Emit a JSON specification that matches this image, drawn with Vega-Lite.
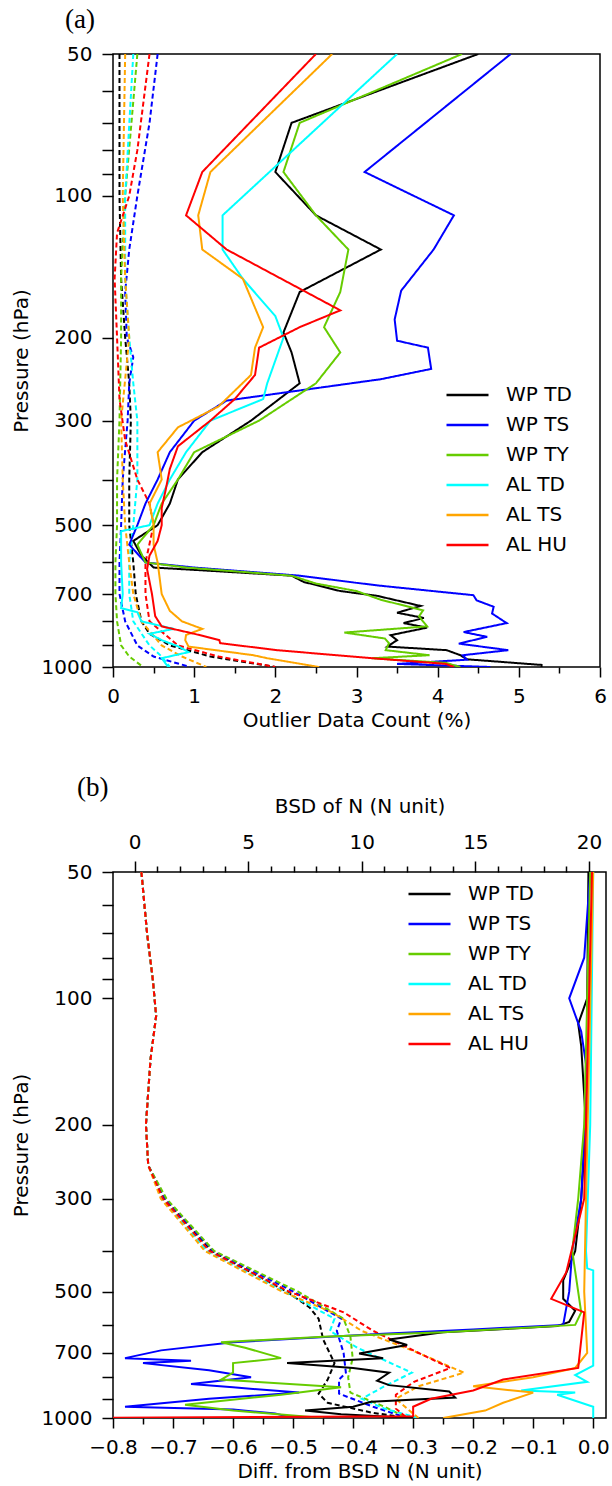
{
  "$schema": "https://vega.github.io/schema/vega-lite/v6.json",
  "padding": {"left": 10, "top": 5, "right": 3, "bottom": 5},
  "bounds": "flush",
  "spacing": 205,
  "config": {
    "font": "DejaVu Sans",
    "view": {"stroke": "black", "strokeWidth": 1.5},
    "axis": {"domain": false, "grid": false, "tickColor": "black", "tickWidth": 1.5, "tickSize": 10, "labelFont": "DejaVu Sans", "labelFontSize": 20, "labelColor": "black", "titleFont": "DejaVu Sans", "titleFontSize": 20, "titleFontWeight": "normal", "titleColor": "black", "labelPadding": 9, "labelFlush": false, "labelOverlap": false},
    "legend": {"labelFont": "DejaVu Sans", "labelFontSize": 20, "labelColor": "black", "symbolType": "stroke", "symbolSize": 1764, "symbolStrokeWidth": 2.5, "clipHeight": 20, "rowPadding": 10, "labelOffset": 16, "padding": 0},
    "title": {"font": "Liberation Serif", "fontSize": 27, "fontWeight": "normal", "color": "black", "anchor": "start", "frame": "group"}
  },
  "resolve": {"legend": {"color": "independent"}},
  "datasets": {
    "a": [
      {"s":"WP TD","k":"d","p":50,"v":0.08},{"s":"WP TD","k":"d","p":100,"v":0.08},{"s":"WP TD","k":"d","p":150,"v":0.1},{"s":"WP TD","k":"d","p":200,"v":0.15},{"s":"WP TD","k":"d","p":250,"v":0.2},{"s":"WP TD","k":"d","p":300,"v":0.22},{"s":"WP TD","k":"d","p":400,"v":0.2},{"s":"WP TD","k":"d","p":500,"v":0.2},{"s":"WP TD","k":"d","p":600,"v":0.25},{"s":"WP TD","k":"d","p":700,"v":0.28},{"s":"WP TD","k":"d","p":800,"v":0.35},{"s":"WP TD","k":"d","p":850,"v":0.45},{"s":"WP TD","k":"d","p":900,"v":0.7},{"s":"WP TD","k":"d","p":950,"v":1.2},{"s":"WP TD","k":"d","p":1000,"v":2.0},
      {"s":"WP TS","k":"d","p":50,"v":0.55},{"s":"WP TS","k":"d","p":70,"v":0.45},{"s":"WP TS","k":"d","p":100,"v":0.3},{"s":"WP TS","k":"d","p":130,"v":0.2},{"s":"WP TS","k":"d","p":160,"v":0.15},{"s":"WP TS","k":"d","p":200,"v":0.17},{"s":"WP TS","k":"d","p":220,"v":0.25},{"s":"WP TS","k":"d","p":250,"v":0.2},{"s":"WP TS","k":"d","p":300,"v":0.18},{"s":"WP TS","k":"d","p":400,"v":0.12},{"s":"WP TS","k":"d","p":500,"v":0.1},{"s":"WP TS","k":"d","p":600,"v":0.08},{"s":"WP TS","k":"d","p":700,"v":0.08},{"s":"WP TS","k":"d","p":800,"v":0.15},{"s":"WP TS","k":"d","p":900,"v":0.3},{"s":"WP TS","k":"d","p":950,"v":0.5},{"s":"WP TS","k":"d","p":1000,"v":0.95},
      {"s":"WP TY","k":"d","p":50,"v":0.3},{"s":"WP TY","k":"d","p":100,"v":0.15},{"s":"WP TY","k":"d","p":150,"v":0.1},{"s":"WP TY","k":"d","p":200,"v":0.1},{"s":"WP TY","k":"d","p":300,"v":0.08},{"s":"WP TY","k":"d","p":400,"v":0.05},{"s":"WP TY","k":"d","p":500,"v":0.05},{"s":"WP TY","k":"d","p":600,"v":0.03},{"s":"WP TY","k":"d","p":700,"v":0.03},{"s":"WP TY","k":"d","p":800,"v":0.05},{"s":"WP TY","k":"d","p":900,"v":0.1},{"s":"WP TY","k":"d","p":950,"v":0.2},{"s":"WP TY","k":"d","p":1000,"v":0.37},
      {"s":"AL TD","k":"d","p":50,"v":0.25},{"s":"AL TD","k":"d","p":100,"v":0.15},{"s":"AL TD","k":"d","p":150,"v":0.15},{"s":"AL TD","k":"d","p":200,"v":0.2},{"s":"AL TD","k":"d","p":250,"v":0.25},{"s":"AL TD","k":"d","p":300,"v":0.3},{"s":"AL TD","k":"d","p":400,"v":0.3},{"s":"AL TD","k":"d","p":500,"v":0.25},{"s":"AL TD","k":"d","p":600,"v":0.2},{"s":"AL TD","k":"d","p":700,"v":0.2},{"s":"AL TD","k":"d","p":800,"v":0.25},{"s":"AL TD","k":"d","p":900,"v":0.45},{"s":"AL TD","k":"d","p":950,"v":0.6},{"s":"AL TD","k":"d","p":1000,"v":0.7},
      {"s":"AL TS","k":"d","p":50,"v":0.15},{"s":"AL TS","k":"d","p":100,"v":0.12},{"s":"AL TS","k":"d","p":150,"v":0.15},{"s":"AL TS","k":"d","p":200,"v":0.2},{"s":"AL TS","k":"d","p":300,"v":0.1},{"s":"AL TS","k":"d","p":400,"v":0.12},{"s":"AL TS","k":"d","p":500,"v":0.15},{"s":"AL TS","k":"d","p":600,"v":0.2},{"s":"AL TS","k":"d","p":700,"v":0.25},{"s":"AL TS","k":"d","p":800,"v":0.35},{"s":"AL TS","k":"d","p":900,"v":0.6},{"s":"AL TS","k":"d","p":950,"v":0.85},{"s":"AL TS","k":"d","p":1000,"v":1.15},
      {"s":"AL HU","k":"d","p":50,"v":0.45},{"s":"AL HU","k":"d","p":80,"v":0.3},{"s":"AL HU","k":"d","p":100,"v":0.2},{"s":"AL HU","k":"d","p":120,"v":0.05},{"s":"AL HU","k":"d","p":150,"v":0.02},{"s":"AL HU","k":"d","p":200,"v":0.05},{"s":"AL HU","k":"d","p":270,"v":0.08},{"s":"AL HU","k":"d","p":330,"v":0.15},{"s":"AL HU","k":"d","p":400,"v":0.3},{"s":"AL HU","k":"d","p":450,"v":0.45},{"s":"AL HU","k":"d","p":500,"v":0.5},{"s":"AL HU","k":"d","p":600,"v":0.4},{"s":"AL HU","k":"d","p":700,"v":0.4},{"s":"AL HU","k":"d","p":800,"v":0.45},{"s":"AL HU","k":"d","p":900,"v":0.8},{"s":"AL HU","k":"d","p":950,"v":1.3},{"s":"AL HU","k":"d","p":1000,"v":2.0},
      {"s":"WP TD","k":"s","p":50,"v":4.5},{"s":"WP TD","k":"s","p":70,"v":2.2},{"s":"WP TD","k":"s","p":89,"v":2.0},{"s":"WP TD","k":"s","p":110,"v":2.5},{"s":"WP TD","k":"s","p":130,"v":3.3},{"s":"WP TD","k":"s","p":160,"v":2.3},{"s":"WP TD","k":"s","p":195,"v":2.1},{"s":"WP TD","k":"s","p":215,"v":2.2},{"s":"WP TD","k":"s","p":250,"v":2.3},{"s":"WP TD","k":"s","p":300,"v":1.7},{"s":"WP TD","k":"s","p":350,"v":1.1},{"s":"WP TD","k":"s","p":400,"v":0.8},{"s":"WP TD","k":"s","p":450,"v":0.7},{"s":"WP TD","k":"s","p":500,"v":0.55},{"s":"WP TD","k":"s","p":540,"v":0.25},{"s":"WP TD","k":"s","p":580,"v":0.35},{"s":"WP TD","k":"s","p":615,"v":0.5},{"s":"WP TD","k":"s","p":625,"v":1.2},{"s":"WP TD","k":"s","p":640,"v":2.2},{"s":"WP TD","k":"s","p":660,"v":2.35},{"s":"WP TD","k":"s","p":690,"v":2.8},{"s":"WP TD","k":"s","p":706,"v":3.25},{"s":"WP TD","k":"s","p":742,"v":3.79},{"s":"WP TD","k":"s","p":767,"v":3.5},{"s":"WP TD","k":"s","p":787,"v":3.83},{"s":"WP TD","k":"s","p":807,"v":3.58},{"s":"WP TD","k":"s","p":825,"v":3.87},{"s":"WP TD","k":"s","p":856,"v":3.42},{"s":"WP TD","k":"s","p":877,"v":3.5},{"s":"WP TD","k":"s","p":905,"v":3.38},{"s":"WP TD","k":"s","p":921,"v":4.11},{"s":"WP TD","k":"s","p":944,"v":4.28},{"s":"WP TD","k":"s","p":963,"v":4.36},{"s":"WP TD","k":"s","p":990,"v":5.28},{"s":"WP TD","k":"s","p":1000,"v":5.28},
      {"s":"WP TS","k":"s","p":50,"v":4.9},{"s":"WP TS","k":"s","p":89,"v":3.1},{"s":"WP TS","k":"s","p":110,"v":4.2},{"s":"WP TS","k":"s","p":130,"v":3.95},{"s":"WP TS","k":"s","p":159,"v":3.55},{"s":"WP TS","k":"s","p":183,"v":3.47},{"s":"WP TS","k":"s","p":203,"v":3.5},{"s":"WP TS","k":"s","p":210,"v":3.88},{"s":"WP TS","k":"s","p":233,"v":3.92},{"s":"WP TS","k":"s","p":245,"v":3.3},{"s":"WP TS","k":"s","p":272,"v":1.4},{"s":"WP TS","k":"s","p":300,"v":1.0},{"s":"WP TS","k":"s","p":350,"v":0.7},{"s":"WP TS","k":"s","p":400,"v":0.55},{"s":"WP TS","k":"s","p":450,"v":0.4},{"s":"WP TS","k":"s","p":500,"v":0.3},{"s":"WP TS","k":"s","p":550,"v":0.2},{"s":"WP TS","k":"s","p":600,"v":0.4},{"s":"WP TS","k":"s","p":615,"v":1.0},{"s":"WP TS","k":"s","p":640,"v":2.3},{"s":"WP TS","k":"s","p":671,"v":3.25},{"s":"WP TS","k":"s","p":704,"v":4.44},{"s":"WP TS","k":"s","p":722,"v":4.48},{"s":"WP TS","k":"s","p":745,"v":4.69},{"s":"WP TS","k":"s","p":770,"v":4.67},{"s":"WP TS","k":"s","p":807,"v":4.85},{"s":"WP TS","k":"s","p":843,"v":4.32},{"s":"WP TS","k":"s","p":863,"v":4.61},{"s":"WP TS","k":"s","p":892,"v":4.26},{"s":"WP TS","k":"s","p":921,"v":4.87},{"s":"WP TS","k":"s","p":944,"v":4.31},{"s":"WP TS","k":"s","p":965,"v":4.36},{"s":"WP TS","k":"s","p":985,"v":3.5},{"s":"WP TS","k":"s","p":1000,"v":4.65},
      {"s":"WP TY","k":"s","p":50,"v":4.3},{"s":"WP TY","k":"s","p":70,"v":2.3},{"s":"WP TY","k":"s","p":89,"v":2.1},{"s":"WP TY","k":"s","p":110,"v":2.5},{"s":"WP TY","k":"s","p":130,"v":2.9},{"s":"WP TY","k":"s","p":160,"v":2.8},{"s":"WP TY","k":"s","p":190,"v":2.6},{"s":"WP TY","k":"s","p":215,"v":2.8},{"s":"WP TY","k":"s","p":250,"v":2.5},{"s":"WP TY","k":"s","p":300,"v":1.8},{"s":"WP TY","k":"s","p":350,"v":1.0},{"s":"WP TY","k":"s","p":400,"v":0.8},{"s":"WP TY","k":"s","p":450,"v":0.6},{"s":"WP TY","k":"s","p":500,"v":0.5},{"s":"WP TY","k":"s","p":550,"v":0.3},{"s":"WP TY","k":"s","p":600,"v":0.4},{"s":"WP TY","k":"s","p":615,"v":0.9},{"s":"WP TY","k":"s","p":640,"v":2.2},{"s":"WP TY","k":"s","p":665,"v":2.5},{"s":"WP TY","k":"s","p":690,"v":3.0},{"s":"WP TY","k":"s","p":720,"v":3.3},{"s":"WP TY","k":"s","p":758,"v":3.82},{"s":"WP TY","k":"s","p":781,"v":3.77},{"s":"WP TY","k":"s","p":820,"v":3.87},{"s":"WP TY","k":"s","p":845,"v":2.85},{"s":"WP TY","k":"s","p":870,"v":3.35},{"s":"WP TY","k":"s","p":890,"v":3.4},{"s":"WP TY","k":"s","p":921,"v":3.36},{"s":"WP TY","k":"s","p":944,"v":3.9},{"s":"WP TY","k":"s","p":958,"v":3.19},{"s":"WP TY","k":"s","p":980,"v":4.1},{"s":"WP TY","k":"s","p":1000,"v":4.28},
      {"s":"AL TD","k":"s","p":50,"v":3.5},{"s":"AL TD","k":"s","p":110,"v":1.35},{"s":"AL TD","k":"s","p":130,"v":1.35},{"s":"AL TD","k":"s","p":150,"v":1.6},{"s":"AL TD","k":"s","p":180,"v":2.0},{"s":"AL TD","k":"s","p":200,"v":2.1},{"s":"AL TD","k":"s","p":250,"v":1.9},{"s":"AL TD","k":"s","p":270,"v":1.85},{"s":"AL TD","k":"s","p":300,"v":1.2},{"s":"AL TD","k":"s","p":350,"v":0.9},{"s":"AL TD","k":"s","p":400,"v":0.7},{"s":"AL TD","k":"s","p":450,"v":0.55},{"s":"AL TD","k":"s","p":500,"v":0.45},{"s":"AL TD","k":"s","p":515,"v":0.1},{"s":"AL TD","k":"s","p":600,"v":0.1},{"s":"AL TD","k":"s","p":700,"v":0.12},{"s":"AL TD","k":"s","p":750,"v":0.1},{"s":"AL TD","k":"s","p":765,"v":0.3},{"s":"AL TD","k":"s","p":800,"v":0.35},{"s":"AL TD","k":"s","p":830,"v":0.75},{"s":"AL TD","k":"s","p":850,"v":0.45},{"s":"AL TD","k":"s","p":877,"v":0.6},{"s":"AL TD","k":"s","p":905,"v":0.81},{"s":"AL TD","k":"s","p":930,"v":0.93},{"s":"AL TD","k":"s","p":958,"v":0.6},{"s":"AL TD","k":"s","p":1000,"v":0.68},
      {"s":"AL TS","k":"s","p":50,"v":2.7},{"s":"AL TS","k":"s","p":89,"v":1.2},{"s":"AL TS","k":"s","p":110,"v":1.05},{"s":"AL TS","k":"s","p":130,"v":1.1},{"s":"AL TS","k":"s","p":150,"v":1.6},{"s":"AL TS","k":"s","p":190,"v":1.85},{"s":"AL TS","k":"s","p":210,"v":1.75},{"s":"AL TS","k":"s","p":240,"v":1.7},{"s":"AL TS","k":"s","p":280,"v":1.3},{"s":"AL TS","k":"s","p":310,"v":0.8},{"s":"AL TS","k":"s","p":350,"v":0.55},{"s":"AL TS","k":"s","p":400,"v":0.6},{"s":"AL TS","k":"s","p":450,"v":0.45},{"s":"AL TS","k":"s","p":500,"v":0.5},{"s":"AL TS","k":"s","p":550,"v":0.5},{"s":"AL TS","k":"s","p":600,"v":0.55},{"s":"AL TS","k":"s","p":700,"v":0.6},{"s":"AL TS","k":"s","p":760,"v":0.7},{"s":"AL TS","k":"s","p":800,"v":0.85},{"s":"AL TS","k":"s","p":830,"v":1.1},{"s":"AL TS","k":"s","p":855,"v":0.9},{"s":"AL TS","k":"s","p":877,"v":0.89},{"s":"AL TS","k":"s","p":905,"v":0.93},{"s":"AL TS","k":"s","p":944,"v":1.73},{"s":"AL TS","k":"s","p":958,"v":1.9},{"s":"AL TS","k":"s","p":1000,"v":2.54},
      {"s":"AL HU","k":"s","p":50,"v":2.5},{"s":"AL HU","k":"s","p":89,"v":1.1},{"s":"AL HU","k":"s","p":110,"v":0.9},{"s":"AL HU","k":"s","p":130,"v":1.4},{"s":"AL HU","k":"s","p":175,"v":2.8},{"s":"AL HU","k":"s","p":190,"v":2.3},{"s":"AL HU","k":"s","p":210,"v":1.8},{"s":"AL HU","k":"s","p":240,"v":1.75},{"s":"AL HU","k":"s","p":270,"v":1.5},{"s":"AL HU","k":"s","p":300,"v":1.2},{"s":"AL HU","k":"s","p":340,"v":0.8},{"s":"AL HU","k":"s","p":380,"v":0.7},{"s":"AL HU","k":"s","p":420,"v":0.65},{"s":"AL HU","k":"s","p":460,"v":0.6},{"s":"AL HU","k":"s","p":500,"v":0.6},{"s":"AL HU","k":"s","p":540,"v":0.55},{"s":"AL HU","k":"s","p":580,"v":0.45},{"s":"AL HU","k":"s","p":620,"v":0.42},{"s":"AL HU","k":"s","p":700,"v":0.48},{"s":"AL HU","k":"s","p":780,"v":0.52},{"s":"AL HU","k":"s","p":820,"v":0.6},{"s":"AL HU","k":"s","p":850,"v":1.0},{"s":"AL HU","k":"s","p":877,"v":1.31},{"s":"AL HU","k":"s","p":890,"v":1.32},{"s":"AL HU","k":"s","p":921,"v":2.02},{"s":"AL HU","k":"s","p":958,"v":3.19},{"s":"AL HU","k":"s","p":985,"v":4.1},{"s":"AL HU","k":"s","p":1000,"v":4.2}
    ],
    "b": [
      {"s":"WP TD","k":"b","p":50,"v":0.3},{"s":"WP TD","k":"b","p":70,"v":0.55},{"s":"WP TD","k":"b","p":90,"v":0.8},{"s":"WP TD","k":"b","p":110,"v":0.95},{"s":"WP TD","k":"b","p":140,"v":0.7},{"s":"WP TD","k":"b","p":200,"v":0.5},{"s":"WP TD","k":"b","p":250,"v":0.6},{"s":"WP TD","k":"b","p":300,"v":1.3},{"s":"WP TD","k":"b","p":400,"v":3.4},{"s":"WP TD","k":"b","p":500,"v":6.7},{"s":"WP TD","k":"b","p":545,"v":7.7},{"s":"WP TD","k":"b","p":580,"v":8.1},{"s":"WP TD","k":"b","p":650,"v":8.3},{"s":"WP TD","k":"b","p":740,"v":8.8},{"s":"WP TD","k":"b","p":810,"v":8.5},{"s":"WP TD","k":"b","p":875,"v":8.1},{"s":"WP TD","k":"b","p":920,"v":8.5},{"s":"WP TD","k":"b","p":970,"v":10.4},{"s":"WP TD","k":"b","p":1000,"v":12.0},
      {"s":"WP TS","k":"b","p":50,"v":0.3},{"s":"WP TS","k":"b","p":70,"v":0.55},{"s":"WP TS","k":"b","p":90,"v":0.8},{"s":"WP TS","k":"b","p":110,"v":0.95},{"s":"WP TS","k":"b","p":140,"v":0.7},{"s":"WP TS","k":"b","p":200,"v":0.5},{"s":"WP TS","k":"b","p":250,"v":0.6},{"s":"WP TS","k":"b","p":300,"v":1.35},{"s":"WP TS","k":"b","p":400,"v":3.45},{"s":"WP TS","k":"b","p":500,"v":7.0},{"s":"WP TS","k":"b","p":580,"v":9.1},{"s":"WP TS","k":"b","p":620,"v":8.9},{"s":"WP TS","k":"b","p":700,"v":9.2},{"s":"WP TS","k":"b","p":780,"v":9.3},{"s":"WP TS","k":"b","p":810,"v":9.0},{"s":"WP TS","k":"b","p":875,"v":9.0},{"s":"WP TS","k":"b","p":940,"v":10.5},{"s":"WP TS","k":"b","p":1000,"v":12.0},
      {"s":"WP TY","k":"b","p":50,"v":0.3},{"s":"WP TY","k":"b","p":70,"v":0.55},{"s":"WP TY","k":"b","p":90,"v":0.8},{"s":"WP TY","k":"b","p":110,"v":0.95},{"s":"WP TY","k":"b","p":140,"v":0.7},{"s":"WP TY","k":"b","p":200,"v":0.5},{"s":"WP TY","k":"b","p":250,"v":0.6},{"s":"WP TY","k":"b","p":300,"v":1.4},{"s":"WP TY","k":"b","p":400,"v":3.5},{"s":"WP TY","k":"b","p":500,"v":7.2},{"s":"WP TY","k":"b","p":580,"v":9.2},{"s":"WP TY","k":"b","p":640,"v":9.5},{"s":"WP TY","k":"b","p":720,"v":9.6},{"s":"WP TY","k":"b","p":800,"v":9.4},{"s":"WP TY","k":"b","p":870,"v":9.5},{"s":"WP TY","k":"b","p":940,"v":11.0},{"s":"WP TY","k":"b","p":1000,"v":12.0},
      {"s":"AL TD","k":"b","p":50,"v":0.3},{"s":"AL TD","k":"b","p":70,"v":0.55},{"s":"AL TD","k":"b","p":90,"v":0.8},{"s":"AL TD","k":"b","p":110,"v":0.95},{"s":"AL TD","k":"b","p":140,"v":0.7},{"s":"AL TD","k":"b","p":200,"v":0.5},{"s":"AL TD","k":"b","p":250,"v":0.6},{"s":"AL TD","k":"b","p":300,"v":1.2},{"s":"AL TD","k":"b","p":400,"v":3.2},{"s":"AL TD","k":"b","p":500,"v":6.6},{"s":"AL TD","k":"b","p":580,"v":8.8},{"s":"AL TD","k":"b","p":620,"v":8.6},{"s":"AL TD","k":"b","p":680,"v":9.8},{"s":"AL TD","k":"b","p":780,"v":12.2},{"s":"AL TD","k":"b","p":840,"v":11.0},{"s":"AL TD","k":"b","p":900,"v":10.0},{"s":"AL TD","k":"b","p":950,"v":11.0},{"s":"AL TD","k":"b","p":1000,"v":12.5},
      {"s":"AL TS","k":"b","p":50,"v":0.3},{"s":"AL TS","k":"b","p":70,"v":0.55},{"s":"AL TS","k":"b","p":90,"v":0.8},{"s":"AL TS","k":"b","p":110,"v":0.95},{"s":"AL TS","k":"b","p":140,"v":0.7},{"s":"AL TS","k":"b","p":200,"v":0.5},{"s":"AL TS","k":"b","p":250,"v":0.6},{"s":"AL TS","k":"b","p":300,"v":1.15},{"s":"AL TS","k":"b","p":400,"v":3.1},{"s":"AL TS","k":"b","p":500,"v":6.5},{"s":"AL TS","k":"b","p":560,"v":8.7},{"s":"AL TS","k":"b","p":620,"v":10.0},{"s":"AL TS","k":"b","p":700,"v":12.5},{"s":"AL TS","k":"b","p":780,"v":14.5},{"s":"AL TS","k":"b","p":840,"v":12.5},{"s":"AL TS","k":"b","p":900,"v":11.5},{"s":"AL TS","k":"b","p":950,"v":12.0},{"s":"AL TS","k":"b","p":1000,"v":12.5},
      {"s":"AL HU","k":"b","p":50,"v":0.3},{"s":"AL HU","k":"b","p":70,"v":0.55},{"s":"AL HU","k":"b","p":90,"v":0.8},{"s":"AL HU","k":"b","p":110,"v":0.95},{"s":"AL HU","k":"b","p":140,"v":0.7},{"s":"AL HU","k":"b","p":200,"v":0.5},{"s":"AL HU","k":"b","p":250,"v":0.6},{"s":"AL HU","k":"b","p":300,"v":1.25},{"s":"AL HU","k":"b","p":400,"v":3.3},{"s":"AL HU","k":"b","p":500,"v":6.8},{"s":"AL HU","k":"b","p":560,"v":9.2},{"s":"AL HU","k":"b","p":620,"v":10.5},{"s":"AL HU","k":"b","p":700,"v":12.5},{"s":"AL HU","k":"b","p":760,"v":13.9},{"s":"AL HU","k":"b","p":820,"v":12.3},{"s":"AL HU","k":"b","p":880,"v":11.5},{"s":"AL HU","k":"b","p":950,"v":11.5},{"s":"AL HU","k":"b","p":1000,"v":12.0},
      {"s":"WP TD","k":"d","p":50,"v":-0.008},{"s":"WP TD","k":"d","p":100,"v":-0.01},{"s":"WP TD","k":"d","p":115,"v":-0.025},{"s":"WP TD","k":"d","p":130,"v":-0.02},{"s":"WP TD","k":"d","p":200,"v":-0.012},{"s":"WP TD","k":"d","p":300,"v":-0.02},{"s":"WP TD","k":"d","p":400,"v":-0.03},{"s":"WP TD","k":"d","p":470,"v":-0.05},{"s":"WP TD","k":"d","p":520,"v":-0.05},{"s":"WP TD","k":"d","p":555,"v":-0.03},{"s":"WP TD","k":"d","p":590,"v":-0.04},{"s":"WP TD","k":"d","p":604,"v":-0.06},{"s":"WP TD","k":"d","p":625,"v":-0.25},{"s":"WP TD","k":"d","p":650,"v":-0.34},{"s":"WP TD","k":"d","p":670,"v":-0.31},{"s":"WP TD","k":"d","p":702,"v":-0.39},{"s":"WP TD","k":"d","p":720,"v":-0.35},{"s":"WP TD","k":"d","p":740,"v":-0.51},{"s":"WP TD","k":"d","p":760,"v":-0.4},{"s":"WP TD","k":"d","p":780,"v":-0.34},{"s":"WP TD","k":"d","p":815,"v":-0.36},{"s":"WP TD","k":"d","p":835,"v":-0.34},{"s":"WP TD","k":"d","p":865,"v":-0.24},{"s":"WP TD","k":"d","p":894,"v":-0.23},{"s":"WP TD","k":"d","p":915,"v":-0.37},{"s":"WP TD","k":"d","p":940,"v":-0.4},{"s":"WP TD","k":"d","p":960,"v":-0.48},{"s":"WP TD","k":"d","p":980,"v":-0.42},{"s":"WP TD","k":"d","p":1000,"v":-0.3},
      {"s":"WP TS","k":"d","p":50,"v":-0.005},{"s":"WP TS","k":"d","p":80,"v":-0.015},{"s":"WP TS","k":"d","p":100,"v":-0.04},{"s":"WP TS","k":"d","p":120,"v":-0.02},{"s":"WP TS","k":"d","p":150,"v":-0.01},{"s":"WP TS","k":"d","p":300,"v":-0.02},{"s":"WP TS","k":"d","p":400,"v":-0.035},{"s":"WP TS","k":"d","p":500,"v":-0.04},{"s":"WP TS","k":"d","p":600,"v":-0.05},{"s":"WP TS","k":"d","p":615,"v":-0.2},{"s":"WP TS","k":"d","p":630,"v":-0.35},{"s":"WP TS","k":"d","p":660,"v":-0.6},{"s":"WP TS","k":"d","p":690,"v":-0.72},{"s":"WP TS","k":"d","p":720,"v":-0.78},{"s":"WP TS","k":"d","p":730,"v":-0.67},{"s":"WP TS","k":"d","p":740,"v":-0.75},{"s":"WP TS","k":"d","p":770,"v":-0.64},{"s":"WP TS","k":"d","p":800,"v":-0.57},{"s":"WP TS","k":"d","p":830,"v":-0.67},{"s":"WP TS","k":"d","p":845,"v":-0.6},{"s":"WP TS","k":"d","p":870,"v":-0.49},{"s":"WP TS","k":"d","p":900,"v":-0.64},{"s":"WP TS","k":"d","p":940,"v":-0.78},{"s":"WP TS","k":"d","p":955,"v":-0.6},{"s":"WP TS","k":"d","p":975,"v":-0.53},{"s":"WP TS","k":"d","p":1000,"v":-0.5},
      {"s":"WP TY","k":"d","p":50,"v":-0.005},{"s":"WP TY","k":"d","p":200,"v":-0.015},{"s":"WP TY","k":"d","p":300,"v":-0.025},{"s":"WP TY","k":"d","p":400,"v":-0.035},{"s":"WP TY","k":"d","p":560,"v":-0.02},{"s":"WP TY","k":"d","p":600,"v":-0.03},{"s":"WP TY","k":"d","p":625,"v":-0.25},{"s":"WP TY","k":"d","p":640,"v":-0.45},{"s":"WP TY","k":"d","p":660,"v":-0.62},{"s":"WP TY","k":"d","p":680,"v":-0.58},{"s":"WP TY","k":"d","p":720,"v":-0.52},{"s":"WP TY","k":"d","p":740,"v":-0.6},{"s":"WP TY","k":"d","p":780,"v":-0.6},{"s":"WP TY","k":"d","p":810,"v":-0.62},{"s":"WP TY","k":"d","p":845,"v":-0.42},{"s":"WP TY","k":"d","p":880,"v":-0.52},{"s":"WP TY","k":"d","p":930,"v":-0.68},{"s":"WP TY","k":"d","p":960,"v":-0.6},{"s":"WP TY","k":"d","p":1000,"v":-0.45},
      {"s":"AL TD","k":"d","p":50,"v":0.0},{"s":"AL TD","k":"d","p":200,"v":-0.005},{"s":"AL TD","k":"d","p":400,"v":-0.012},{"s":"AL TD","k":"d","p":440,"v":-0.01},{"s":"AL TD","k":"d","p":445,"v":0.0},{"s":"AL TD","k":"d","p":750,"v":0.0},{"s":"AL TD","k":"d","p":790,"v":-0.03},{"s":"AL TD","k":"d","p":820,"v":-0.01},{"s":"AL TD","k":"d","p":860,"v":-0.12},{"s":"AL TD","k":"d","p":870,"v":-0.03},{"s":"AL TD","k":"d","p":880,"v":-0.06},{"s":"AL TD","k":"d","p":940,"v":0.0},{"s":"AL TD","k":"d","p":1000,"v":0.0},
      {"s":"AL TS","k":"d","p":50,"v":0.0},{"s":"AL TS","k":"d","p":300,"v":-0.012},{"s":"AL TS","k":"d","p":500,"v":-0.015},{"s":"AL TS","k":"d","p":700,"v":-0.01},{"s":"AL TS","k":"d","p":760,"v":-0.03},{"s":"AL TS","k":"d","p":800,"v":-0.1},{"s":"AL TS","k":"d","p":840,"v":-0.2},{"s":"AL TS","k":"d","p":870,"v":-0.1},{"s":"AL TS","k":"d","p":920,"v":-0.15},{"s":"AL TS","k":"d","p":960,"v":-0.18},{"s":"AL TS","k":"d","p":1000,"v":-0.25},
      {"s":"AL HU","k":"d","p":50,"v":-0.002},{"s":"AL HU","k":"d","p":300,"v":-0.015},{"s":"AL HU","k":"d","p":450,"v":-0.045},{"s":"AL HU","k":"d","p":520,"v":-0.07},{"s":"AL HU","k":"d","p":560,"v":-0.015},{"s":"AL HU","k":"d","p":760,"v":-0.025},{"s":"AL HU","k":"d","p":810,"v":-0.15},{"s":"AL HU","k":"d","p":860,"v":-0.2},{"s":"AL HU","k":"d","p":900,"v":-0.27},{"s":"AL HU","k":"d","p":940,"v":-0.3},{"s":"AL HU","k":"d","p":990,"v":-0.3},{"s":"AL HU","k":"d","p":1000,"v":-0.85}
    ]
  },
  "vconcat": [
    {
      "width": 487, "height": 613,
      "title": {"text": "(a)", "dx": -48, "offset": 10},
      "data": {"name": "a"},
      "mark": {"type": "line", "strokeWidth": 2, "clip": true},
      "encoding": {
        "x": {"field": "v", "type": "quantitative", "scale": {"domain": [0, 6], "nice": false, "zero": false},
          "axis": {"title": "Outlier Data Count (%)", "values": [0,0.5,1,1.5,2,2.5,3,3.5,4,4.5,5,5.5,6], "format": ".0f", "labelExpr": "datum.value % 1 === 0 ? datum.label : ''", "tickSize": {"condition": {"test": "datum.value % 1 === 0", "value": 10}, "value": 6}}},
        "y": {"field": "p", "type": "quantitative", "scale": {"type": "log", "domain": [50, 1000], "reverse": true, "nice": false},
          "axis": {"title": "Pressure (hPa)", "values": [50,60,70,80,90,100,200,300,400,500,600,700,800,900,1000], "format": "d", "labelExpr": "indexof([50,100,200,300,500,700,1000], datum.value) >= 0 ? datum.label : ''", "labelPadding": 10, "tickSize": 11, "titlePadding": 10}},
        "color": {"field": "s", "type": "nominal", "scale": {"domain": ["WP TD","WP TS","WP TY","AL TD","AL TS","AL HU"], "range": ["#000000","#0000ff","#66cc00","#00ffff","#ffa500","#ff0000"]},
          "legend": {"title": null, "orient": "none", "legendX": 332, "legendY": 331}},
        "strokeDash": {"field": "k", "type": "nominal", "scale": {"domain": ["s","d"], "range": [[1,0],[5,3]]}, "legend": null},
        "order": {"value": null}
      }
    },
    {
      "width": 493, "height": 546,
      "title": {"text": "(b)", "dx": -36, "offset": -6},
      "data": {"name": "b"},
      "layer": [
        {
          "transform": [{"filter": "datum.k === 'b'"}],
          "mark": {"type": "line", "strokeWidth": 2, "strokeDash": [5, 3], "clip": true},
          "encoding": {
            "x": {"field": "v", "type": "quantitative", "scale": {"domain": [-0.95, 20.75], "nice": false, "zero": false},
              "axis": {"orient": "top", "title": "BSD of N (N unit)", "values": [0,1,2,3,4,5,6,7,8,9,10,11,12,13,14,15,16,17,18,19,20], "format": "d", "labelExpr": "datum.value % 5 === 0 ? datum.label : ''", "tickSize": {"condition": {"test": "datum.value % 5 === 0", "value": 11}, "value": 6}, "labelPadding": 9, "titlePadding": 16}},
            "y": {"field": "p", "type": "quantitative", "scale": {"type": "log", "domain": [50, 1000], "reverse": true, "nice": false},
              "axis": {"title": "Pressure (hPa)", "values": [50,60,70,80,90,100,200,300,400,500,600,700,800,900,1000], "format": "d", "labelExpr": "indexof([50,100,200,300,500,700,1000], datum.value) >= 0 ? datum.label : ''", "labelPadding": 10, "tickSize": 11, "titlePadding": 10}},
            "color": {"field": "s", "type": "nominal", "scale": {"domain": ["WP TD","WP TS","WP TY","AL TD","AL TS","AL HU"], "range": ["#000000","#0000ff","#66cc00","#00ffff","#ffa500","#ff0000"]},
              "legend": {"title": null, "orient": "none", "legendX": 294, "legendY": 12}},
            "order": {"value": null}
          }
        },
        {
          "transform": [{"filter": "datum.k === 'd'"}],
          "mark": {"type": "line", "strokeWidth": 2, "clip": true},
          "encoding": {
            "x": {"field": "v", "type": "quantitative", "scale": {"domain": [-0.8, 0.0213], "nice": false, "zero": false},
              "axis": {"orient": "bottom", "title": "Diff. from BSD N (N unit)", "values": [-0.8,-0.75,-0.7,-0.65,-0.6,-0.55,-0.5,-0.45,-0.4,-0.35,-0.3,-0.25,-0.2,-0.15,-0.1,-0.05,0], "format": ".1f", "labelExpr": "abs(datum.value*10 - round(datum.value*10)) < 0.000001 ? datum.label : ''", "tickSize": {"condition": {"test": "abs(datum.value*10 - round(datum.value*10)) < 0.000001", "value": 10}, "value": 6}}},
            "y": {"field": "p", "type": "quantitative"},
            "color": {"field": "s", "type": "nominal"},
            "order": {"value": null}
          }
        }
      ],
      "resolve": {"scale": {"x": "independent"}}
    }
  ]
}
